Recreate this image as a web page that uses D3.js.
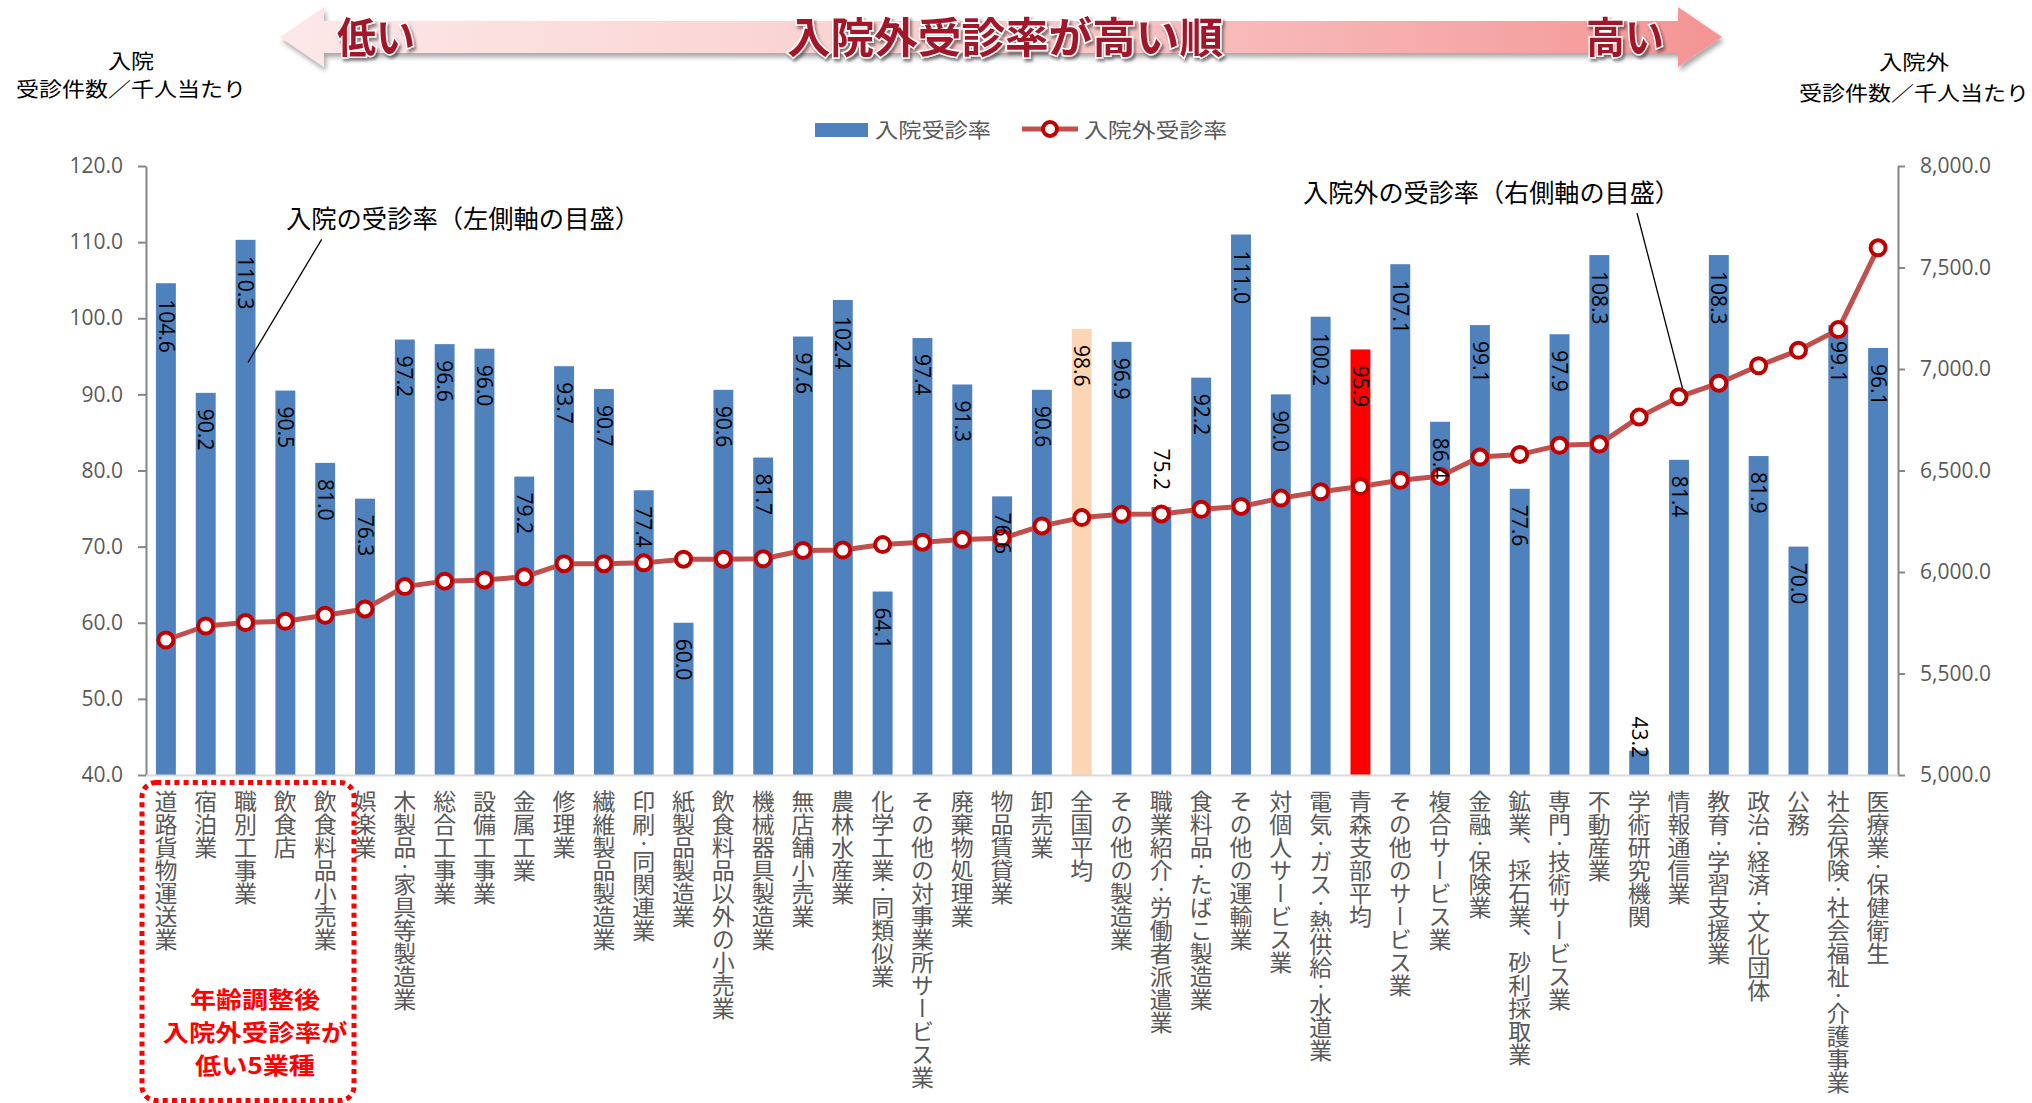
<!DOCTYPE html>
<html>
<head>
<meta charset="utf-8">
<script src="https://cdn.jsdelivr.net/npm/d3@7"></script>
<style>
  body { margin: 0; background: #ffffff; }
  svg { display: block; }
</style>
</head>
<body>
<svg id="chart" width="2032" height="1103"></svg>
<script>
// ---------------- DATA ----------------
const categories = [
  "道路貨物運送業", "宿泊業", "職別工事業", "飲食店", "飲食料品小売業",
  "娯楽業", "木製品・家具等製造業", "総合工事業", "設備工事業", "金属工業",
  "修理業", "繊維製品製造業", "印刷・同関連業", "紙製品製造業", "飲食料品以外の小売業",
  "機械器具製造業", "無店舗小売業", "農林水産業", "化学工業・同類似業", "その他の対事業所サービス業",
  "廃棄物処理業", "物品賃貸業", "卸売業", "全国平均", "その他の製造業",
  "職業紹介・労働者派遣業", "食料品・たばこ製造業", "その他の運輸業", "対個人サービス業", "電気・ガス・熱供給・水道業",
  "青森支部平均", "その他のサービス業", "複合サービス業", "金融・保険業", "鉱業、採石業、砂利採取業",
  "専門・技術サービス業", "不動産業", "学術研究機関", "情報通信業", "教育・学習支援業",
  "政治・経済・文化団体", "公務", "社会保険・社会福祉・介護事業", "医療業・保健衛生"
];

// 入院受診率 (left axis)
const inpatientRate = [
  104.6, 90.2, 110.3, 90.5, 81.0,
  76.3, 97.2, 96.6, 96.0, 79.2,
  93.7, 90.7, 77.4, 60.0, 90.6,
  81.7, 97.6, 102.4, 64.1, 97.4,
  91.3, 76.6, 90.6, 98.6, 96.9,
  75.2, 92.2, 111.0, 90.0, 100.2,
  95.9, 107.1, 86.4, 99.1, 77.6,
  97.9, 108.3, 43.2, 81.4, 108.3,
  81.9, 70.0, 99.1, 96.1
];

// 入院外受診率 (right axis)
const outpatientRate = [
  5665, 5734, 5751, 5757, 5787,
  5818, 5928, 5955, 5961, 5976,
  6041, 6041, 6045, 6063, 6063,
  6065, 6106, 6108, 6135, 6147,
  6160, 6166, 6227, 6268, 6284,
  6286, 6309, 6323, 6364, 6395,
  6421, 6452, 6472, 6566, 6579,
  6624, 6630, 6763, 6863, 6930,
  7016, 7092, 7194, 7597
];

const leftTicks = [40, 50, 60, 70, 80, 90, 100, 110, 120];
const rightTicks = [5000, 5500, 6000, 6500, 7000, 7500, 8000];

const seriesNames = ["入院受診率", "入院外受診率"];
const nationalAvg = "全国平均";
const branchAvg = "青森支部平均";
const labelAboveBar = ["職業紹介・労働者派遣業"];
const lowestFiveNote = ["年齢調整後", "入院外受診率が", "低い5業種"];
const leftAxisTitle = ["入院", "受診件数／千人当たり"];
const rightAxisTitle = ["入院外", "受診件数／千人当たり"];
const arrowTexts = { low: "低い", middle: "入院外受診率が高い順", high: "高い" };
const noteLeft = "入院の受診率（左側軸の目盛）";
const noteRight = "入院外の受診率（右側軸の目盛）";

// ---------------- LAYOUT ----------------
const plot = { left: 146, right: 1898, top: 166, bottom: 775 };
const numFont = "'Open Sans', 'Noto Sans', sans-serif";
const jpFont = "'Noto Sans CJK JP', 'Noto Sans', sans-serif";
const gray = "#595959";

const svg = d3.select("#chart");
const defs = svg.append("defs");

const x = d3.scaleBand().domain(categories)
  .range([plot.left, plot.right]).paddingInner(0.5).paddingOuter(0.25);
const yL = d3.scaleLinear().domain([40, 120]).range([plot.bottom, plot.top]);
const yR = d3.scaleLinear().domain([5000, 8000]).range([plot.bottom, plot.top]);

// ---------------- TOP ARROW BANNER ----------------
const grad = defs.append("linearGradient").attr("id", "arrowGrad")
  .attr("x1", "0%").attr("x2", "100%").attr("y1", "0%").attr("y2", "0%");
grad.append("stop").attr("offset", "0%").attr("stop-color", "#FDE8E8");
grad.append("stop").attr("offset", "50%").attr("stop-color", "#F9CCCC");
grad.append("stop").attr("offset", "100%").attr("stop-color", "#F49494");

const shadow = defs.append("filter").attr("id", "shadow")
  .attr("x", "-5%").attr("y", "-50%").attr("width", "110%").attr("height", "220%");
shadow.append("feDropShadow").attr("dx", 2).attr("dy", 4).attr("stdDeviation", 2.5)
  .attr("flood-color", "#000").attr("flood-opacity", 0.35);

const textShadow = defs.append("filter").attr("id", "tshadow")
  .attr("x", "-10%").attr("y", "-30%").attr("width", "120%").attr("height", "170%");
textShadow.append("feDropShadow").attr("dx", 2).attr("dy", 3).attr("stdDeviation", 1.5)
  .attr("flood-color", "#000").attr("flood-opacity", 0.45);

const ax0 = 280, ax1 = 1722, ahw = 44, amid = 37, bodyHalf = 16, headHalf = 30;
const arrowPts = [
  [ax0, amid], [ax0 + ahw, amid - headHalf], [ax0 + ahw, amid - bodyHalf],
  [ax1 - ahw, amid - bodyHalf], [ax1 - ahw, amid - headHalf], [ax1, amid],
  [ax1 - ahw, amid + headHalf], [ax1 - ahw, amid + bodyHalf],
  [ax0 + ahw, amid + bodyHalf], [ax0 + ahw, amid + headHalf]
];
svg.append("polygon")
  .attr("points", arrowPts.map(p => p.join(",")).join(" "))
  .attr("fill", "url(#arrowGrad)")
  .attr("filter", "url(#shadow)");

function arrowText(t, cx, len) {
  svg.append("text")
    .attr("x", cx).attr("y", 53)
    .attr("text-anchor", "middle")
    .attr("font-family", jpFont).attr("font-size", 42).attr("font-weight", 700)
    .attr("fill", "#A3192B")
    .attr("stroke", "#ffffff").attr("stroke-width", 3).attr("paint-order", "stroke")
    .attr("textLength", len).attr("lengthAdjust", "spacingAndGlyphs")
    .attr("filter", "url(#tshadow)")
    .text(t);
}
arrowText(arrowTexts.low, 376, 78);
arrowText(arrowTexts.middle, 1005, 436);
arrowText(arrowTexts.high, 1625, 78);

// ---------------- AXIS TITLES ----------------
function titleBlock(lines, cx, ys, lens) {
  lines.forEach((t, i) => {
    svg.append("text")
      .attr("x", cx).attr("y", ys[i]).attr("text-anchor", "middle")
      .attr("font-family", jpFont).attr("font-size", 20).attr("fill", "#000")
      .attr("textLength", lens[i]).attr("lengthAdjust", "spacingAndGlyphs")
      .text(t);
  });
}
titleBlock(leftAxisTitle, 131, [69, 97], [46, 230]);
titleBlock(rightAxisTitle, 1914, [70, 101], [70, 230]);

// ---------------- LEGEND ----------------
const legend = svg.append("g");
legend.append("rect").attr("x", 815).attr("y", 123).attr("width", 53).attr("height", 14)
  .attr("fill", "#4F81BD");
legend.append("text").attr("x", 875).attr("y", 138)
  .attr("font-family", jpFont).attr("font-size", 20).attr("fill", gray)
  .attr("textLength", 116).attr("lengthAdjust", "spacingAndGlyphs")
  .text(seriesNames[0]);
legend.append("line").attr("x1", 1022).attr("x2", 1078).attr("y1", 129).attr("y2", 129)
  .attr("stroke", "#C0504D").attr("stroke-width", 5);
legend.append("circle").attr("cx", 1050).attr("cy", 129).attr("r", 7)
  .attr("fill", "#fff").attr("stroke", "#C00000").attr("stroke-width", 4);
legend.append("text").attr("x", 1084).attr("y", 138)
  .attr("font-family", jpFont).attr("font-size", 20).attr("fill", gray)
  .attr("textLength", 143).attr("lengthAdjust", "spacingAndGlyphs")
  .text(seriesNames[1]);

// ---------------- BARS ----------------
const data = categories.map((c, i) => ({ cat: c, bar: inpatientRate[i], line: outpatientRate[i] }));

function barColor(d) {
  if (d.cat === nationalAvg) return "#FCD5B5";
  if (d.cat === branchAvg) return "#FF0000";
  return "#4F81BD";
}

svg.append("g").selectAll("rect").data(data).join("rect")
  .attr("x", d => x(d.cat))
  .attr("y", d => yL(d.bar))
  .attr("width", x.bandwidth())
  .attr("height", d => plot.bottom - yL(d.bar))
  .attr("fill", barColor);

// ---------------- AXES ----------------
const axisL = svg.append("g").attr("transform", `translate(${plot.left},0)`)
  .call(d3.axisLeft(yL).tickValues(leftTicks).tickFormat(d3.format(".1f"))
    .tickSize(8).tickSizeOuter(0).tickPadding(15));
const axisR = svg.append("g").attr("transform", `translate(${plot.right},0)`)
  .call(d3.axisRight(yR).tickValues(rightTicks).tickFormat(d3.format(",.1f"))
    .tickSize(7).tickSizeOuter(0).tickPadding(15));
[axisL, axisR].forEach(a => {
  a.select(".domain").attr("stroke", "#868686").attr("stroke-width", 2);
  a.selectAll(".tick line").attr("stroke", "#868686").attr("stroke-width", 2);
  a.selectAll(".tick text").attr("font-family", numFont).attr("font-size", 21)
    .attr("fill", gray);
});

const axisB = svg.append("g").attr("transform", `translate(0,${plot.bottom})`)
  .call(d3.axisBottom(x).tickSize(0).tickSizeOuter(0).tickFormat(""));
axisB.select(".domain").attr("stroke", "#D9D9D9").attr("stroke-width", 2);
axisB.selectAll(".tick").remove();

// category labels (vertical, middle dots set narrower as in the reference)
const catLabels = svg.append("g").selectAll("text").data(categories).join("text")
  .attr("x", d => x(d) + x.bandwidth() / 2)
  .attr("y", 790)
  .attr("font-family", jpFont).attr("font-size", 23).attr("fill", gray)
  .style("writing-mode", "vertical-rl")
  .style("text-orientation", "upright");
catLabels.each(function (d) {
  const t = d3.select(this);
  d.split(/(・)/).filter(s => s.length).forEach(seg => {
    const ts = t.append("tspan").text(seg);
    if (seg === "・") ts.attr("font-size", 14);
  });
});

// ---------------- LINE SERIES ----------------
const lineGen = d3.line()
  .x(d => x(d.cat) + x.bandwidth() / 2)
  .y(d => yR(d.line));
svg.append("path").datum(data)
  .attr("d", lineGen)
  .attr("fill", "none").attr("stroke", "#C0504D").attr("stroke-width", 5)
  .attr("stroke-linejoin", "round");
svg.append("g").selectAll("circle").data(data).join("circle")
  .attr("cx", d => x(d.cat) + x.bandwidth() / 2)
  .attr("cy", d => yR(d.line))
  .attr("r", 7.5)
  .attr("fill", "#fff").attr("stroke", "#C00000").attr("stroke-width", 4);

// ---------------- DATA LABELS (rotated) ----------------
const labelG = svg.append("g");
data.forEach(d => {
  const cx = x(d.cat) + x.bandwidth() / 2;
  const t = labelG.append("text")
    .attr("font-family", numFont).attr("font-size", 21).attr("fill", "#000")
    .attr("dy", "0.35em")
    .text(d3.format(".1f")(d.bar));
  const len = t.node().getComputedTextLength();
  const top = yL(d.bar);
  let start;
  if (labelAboveBar.includes(d.cat)) start = top - 17 - len;
  else start = Math.min(top + 16, plot.bottom - 17 - len);
  t.attr("transform", `translate(${cx},${start}) rotate(90)`);
});

// ---------------- ANNOTATIONS ----------------
svg.append("text").attr("x", 286).attr("y", 228)
  .attr("font-family", jpFont).attr("font-size", 25).attr("fill", "#000")
  .attr("textLength", 354).attr("lengthAdjust", "spacingAndGlyphs")
  .text(noteLeft);
{
  const c = categories[2];
  svg.append("line")
    .attr("x1", 321.7).attr("y1", 239.3)
    .attr("x2", x(c) + x.bandwidth() / 2 + 2.5).attr("y2", yL(94.2))
    .attr("stroke", "#000").attr("stroke-width", 1.3);
}
svg.append("text").attr("x", 1303).attr("y", 202)
  .attr("font-family", jpFont).attr("font-size", 25).attr("fill", "#000")
  .attr("textLength", 377).attr("lengthAdjust", "spacingAndGlyphs")
  .text(noteRight);
{
  const d = data[38];
  svg.append("line")
    .attr("x1", 1637).attr("y1", 213)
    .attr("x2", x(d.cat) + x.bandwidth() / 2 + 3.5).attr("y2", yR(d.line) - 8.5)
    .attr("stroke", "#000").attr("stroke-width", 1.3);
}

// ---------------- DOTTED BOX (lowest 5) ----------------
svg.append("rect")
  .attr("x", 142).attr("y", 782.5).attr("width", 212).attr("height", 318)
  .attr("rx", 14).attr("ry", 14)
  .attr("fill", "none").attr("stroke", "#FF0000").attr("stroke-width", 5)
  .attr("stroke-dasharray", "5,4.2");
const noteLens = [130, 185, 120];
lowestFiveNote.forEach((t, i) => {
  svg.append("text")
    .attr("x", 255).attr("y", 1008 + i * 33)
    .attr("text-anchor", "middle")
    .attr("font-family", jpFont).attr("font-size", 23).attr("font-weight", 700)
    .attr("fill", "#FF0000")
    .attr("textLength", noteLens[i]).attr("lengthAdjust", "spacingAndGlyphs")
    .text(t);
});
</script>
</body>
</html>
